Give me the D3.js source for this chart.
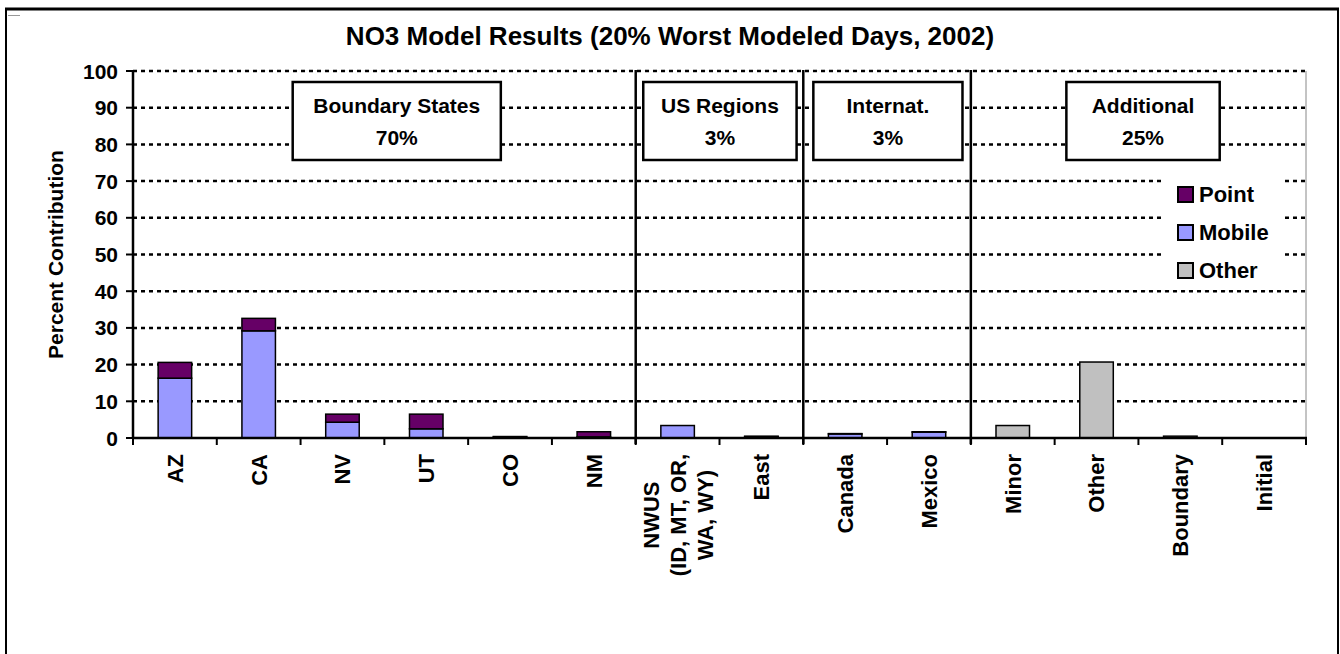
<!DOCTYPE html>
<html>
<head>
<meta charset="utf-8">
<script src="https://cdn.jsdelivr.net/npm/d3@7"></script>
<style>
  body { margin: 0; background: #fff; }
  svg { display: block; font-family: Arial, "Liberation Sans", sans-serif; font-weight: bold; }
</style>
</head>
<body>
<div id="chart"></div>
<script>
// NO3 source contributions, stacked by source type

var categories = ["AZ", "CA", "NV", "UT", "CO", "NM", "NWUS", "East", "Canada", "Mexico", "Minor", "Other", "Boundary", "Initial"];
var categoryLines = [["AZ"], ["CA"], ["NV"], ["UT"], ["CO"], ["NM"], ["NWUS", "(ID, MT, OR,", "WA, WY)"], ["East"], ["Canada"], ["Mexico"], ["Minor"], ["Other"], ["Boundary"], ["Initial"]];

var mobile = [16.3, 29.2, 4.3, 2.5, 0.2, 0.3, 3.4, 0.3, 1.1, 1.6, 0, 0, 0, 0];
var point  = [4.3, 3.4, 2.2, 4.0, 0.2, 1.4, 0, 0.2, 0.1, 0.1, 0, 0, 0, 0];
var other  = [0, 0, 0, 0, 0, 0, 0, 0, 0, 0, 3.4, 20.7, 0.5, 0];

var seriesNames = ["Point", "Mobile", "Other"];
var seriesColors = {Point: "#660066", Mobile: "#9999ff", Other: "#c0c0c0"};

var yTicks = [0, 10, 20, 30, 40, 50, 60, 70, 80, 90, 100];

var groupNames  = ["Boundary States", "US Regions", "Internat.", "Additional"];
var groupShares = ["70%", "3%", "3%", "25%"];
var groupBreaks = [6, 8, 10];   // separator before these category indexes

// box extents, in category units (layout only)
var boxUnits = [[1.906, 4.39], [6.09, 7.92], [8.12, 9.90], [11.14, 12.97]];

var W = 1340, H = 654;
var plotL = 133, plotR = 1306, plotT = 71, plotB = 438;

var svg = d3.select('#chart').append('svg')
  .attr('width', W)
  .attr('height', H);

// outer frame
svg.append('line').attr('x1', 5).attr('x2', 1339).attr('y1', 9).attr('y2', 9)
  .attr('stroke', '#000').attr('stroke-width', 3);
svg.append('line').attr('x1', 6).attr('x2', 6).attr('y1', 8).attr('y2', H)
  .attr('stroke', '#000').attr('stroke-width', 2);
svg.append('line').attr('x1', 1338).attr('x2', 1338).attr('y1', 8).attr('y2', H)
  .attr('stroke', '#000').attr('stroke-width', 2);
svg.append('line').attr('x1', 8).attr('x2', 20).attr('y1', 15.5).attr('y2', 15.5)
  .attr('stroke', '#999').attr('stroke-width', 1);

var x = d3.scaleBand()
  .domain(categories)
  .range([plotL, plotR])
  .paddingInner(0.6)
  .paddingOuter(0.3);
var xu = d3.scaleLinear().domain([0, categories.length]).range([plotL, plotR]);

var y = d3.scaleLinear()
  .domain([0, 100])
  .range([plotB, plotT]);

// title
svg.append('text')
  .attr('x', 670).attr('y', 45)
  .attr('text-anchor', 'middle')
  .style('font-size', '26px')
  .text('NO3 Model Results (20% Worst Modeled Days, 2002)');

// plot right border
svg.append('line').attr('x1', plotR).attr('x2', plotR).attr('y1', plotT).attr('y2', plotB)
  .attr('stroke', '#888').attr('stroke-width', 1);

// gridlines
svg.selectAll('.grid')
  .data(yTicks.filter(function(d) { return d > 0; }))
  .enter().append('line')
    .attr('class', 'grid')
    .attr('x1', plotL).attr('x2', plotR)
    .attr('y1', function(d) { return y(d); })
    .attr('y2', function(d) { return y(d); })
    .attr('stroke', '#000')
    .attr('stroke-width', 2.5)
    .attr('stroke-dasharray', '4,4');

// stacked bars
var table = categories.map(function(c, i) {
  return {cat: c, Mobile: mobile[i], Point: point[i], Other: other[i]};
});
var stack = d3.stack().keys(["Mobile", "Point", "Other"]);
var layers = stack(table);

svg.selectAll('.layer')
  .data(layers)
  .enter().append('g')
    .attr('class', 'layer')
    .attr('fill', function(d) { return seriesColors[d.key]; })
  .selectAll('rect')
  .data(function(d) { return d.filter(function(s) { return s[1] - s[0] > 0; }); })
  .enter().append('rect')
    .attr('x', function(d) { return x(d.data.cat); })
    .attr('width', x.bandwidth())
    .attr('y', function(d) { return y(d[1]); })
    .attr('height', function(d) { return y(d[0]) - y(d[1]); })
    .attr('stroke', '#000')
    .attr('stroke-width', 1.5);

// group separators
svg.selectAll('.sep')
  .data(groupBreaks)
  .enter().append('line')
    .attr('x1', function(d) { return xu(d); })
    .attr('x2', function(d) { return xu(d); })
    .attr('y1', plotT - 1).attr('y2', plotB + 6)
    .attr('stroke', '#000')
    .attr('stroke-width', 2.5);

// group boxes
var boxes = svg.selectAll('.box')
  .data(groupNames)
  .enter().append('g')
    .attr('class', 'box');
boxes.append('rect')
  .attr('x', function(d, i) { return xu(boxUnits[i][0]); })
  .attr('width', function(d, i) { return xu(boxUnits[i][1]) - xu(boxUnits[i][0]); })
  .attr('y', 82).attr('height', 78)
  .attr('fill', '#fff')
  .attr('stroke', '#000')
  .attr('stroke-width', 2.5);
boxes.append('text')
  .attr('x', function(d, i) { return (xu(boxUnits[i][0]) + xu(boxUnits[i][1])) / 2; })
  .attr('y', 113)
  .attr('text-anchor', 'middle')
  .style('font-size', '21px')
  .text(function(d) { return d; });
boxes.append('text')
  .attr('x', function(d, i) { return (xu(boxUnits[i][0]) + xu(boxUnits[i][1])) / 2; })
  .attr('y', 145)
  .attr('text-anchor', 'middle')
  .style('font-size', '21px')
  .text(function(d, i) { return groupShares[i]; });

// axes
svg.append('line').attr('x1', plotL).attr('x2', plotL).attr('y1', plotT).attr('y2', plotB)
  .attr('stroke', '#000').attr('stroke-width', 2.5);
svg.append('line').attr('x1', plotL - 1).attr('x2', plotR + 1).attr('y1', plotB).attr('y2', plotB)
  .attr('stroke', '#000').attr('stroke-width', 2.5);

svg.selectAll('.ytick')
  .data(yTicks)
  .enter().append('line')
    .attr('x1', plotL - 7).attr('x2', plotL)
    .attr('y1', function(d) { return y(d); })
    .attr('y2', function(d) { return y(d); })
    .attr('stroke', '#000').attr('stroke-width', 2);

svg.selectAll('.ylab')
  .data(yTicks)
  .enter().append('text')
    .attr('x', 118)
    .attr('y', function(d) { return y(d); })
    .attr('dy', '0.36em')
    .attr('text-anchor', 'end')
    .style('font-size', '21px')
    .text(function(d) { return d; });

svg.selectAll('.xtick')
  .data(d3.range(categories.length + 1))
  .enter().append('line')
    .attr('x1', function(d) { return xu(d); })
    .attr('x2', function(d) { return xu(d); })
    .attr('y1', plotB).attr('y2', plotB + 7)
    .attr('stroke', '#000').attr('stroke-width', 2);

// category labels, rotated
var labelTop = 454, lineGap = 27;
categories.forEach(function(c, i) {
  var lines = categoryLines[i];
  var cx = x(c) + x.bandwidth() / 2;
  var g = svg.append('g');
  var texts = lines.map(function(t, j) {
    return g.append('text')
      .attr('transform', 'translate(' + (cx + (j - (lines.length - 1) / 2) * lineGap) + ',0) rotate(-90)')
      .attr('dy', '0.36em')
      .style('font-size', '22px')
      .text(t);
  });
  var maxLen = d3.max(texts, function(t) { return t.node().getComputedTextLength(); });
  texts.forEach(function(t) {
    t.attr('text-anchor', lines.length > 1 ? 'middle' : 'end')
     .attr('x', lines.length > 1 ? -(labelTop + maxLen / 2) : -labelTop);
  });
});

// y axis title
svg.append('text')
  .attr('transform', 'translate(55,' + ((plotT + plotB) / 2) + ') rotate(-90)')
  .attr('text-anchor', 'middle')
  .attr('dy', '0.36em')
  .style('font-size', '21px')
  .text('Percent Contribution');

// legend
var legend = svg.append('g');
legend.append('rect')
  .attr('x', 1163).attr('y', 176).attr('width', 121).attr('height', 112)
  .attr('fill', '#fff');
var items = legend.selectAll('.item')
  .data(seriesNames)
  .enter().append('g')
    .attr('transform', function(d, i) { return 'translate(1178,' + (187 + i * 38) + ')'; });
items.append('rect')
  .attr('width', 15).attr('height', 15)
  .attr('fill', function(d) { return seriesColors[d]; })
  .attr('stroke', '#000').attr('stroke-width', 2);
items.append('text')
  .attr('x', 21).attr('y', 7.5).attr('dy', '0.36em')
  .style('font-size', '22px')
  .text(function(d) { return d; });
</script>
</body>
</html>
